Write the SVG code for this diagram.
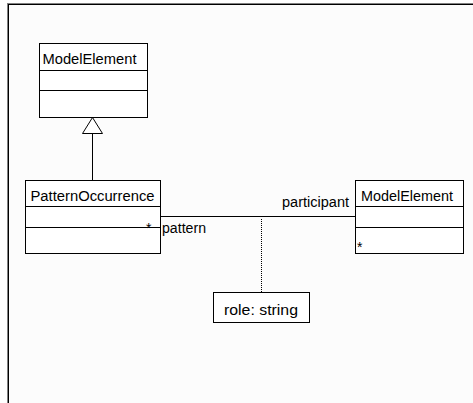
<svg xmlns="http://www.w3.org/2000/svg" width="473" height="403" viewBox="0 0 473 403">
<style>
.box{fill:#ffffff;stroke:#000;stroke-width:1}
.ln{stroke:#000;stroke-width:1;fill:none}
.t{font-family:"Liberation Sans",Arial,sans-serif;font-size:14px;fill:#000}
</style>
<rect x="0" y="0" width="473" height="403" fill="#ffffff"/>
<rect x="9" y="5" width="464" height="398" fill="#fcfcfc"/>
<g id="frame">
<line x1="7" y1="3.5" x2="473" y2="3.5" stroke="#808080"/>
<line x1="8" y1="4.5" x2="473" y2="4.5" stroke="#000"/>
<line x1="7.5" y1="3" x2="7.5" y2="403" stroke="#808080"/>
<line x1="8.5" y1="4" x2="8.5" y2="403" stroke="#000"/>
</g>
<g id="connectors">
<line class="ln" x1="92.5" y1="133" x2="92.5" y2="180"/>
<polygon class="box" points="92.5,117.5 82.5,133.5 102.5,133.5"/>
<line class="ln" x1="160" y1="216.5" x2="355" y2="216.5"/>
<line class="ln" x1="261.5" y1="219" x2="261.5" y2="292" stroke-dasharray="1,1"/>
<text class="t" x="349" y="207" text-anchor="end" textLength="67" lengthAdjust="spacingAndGlyphs">participant</text>
<text class="t" x="162" y="233" textLength="44" lengthAdjust="spacingAndGlyphs">pattern</text>
</g>
<g id="modelElementTop">
<rect class="box" x="39.5" y="43.5" width="108" height="74"/>
<line class="ln" x1="39.5" y1="70.5" x2="147.5" y2="70.5"/>
<line class="ln" x1="39.5" y1="90.5" x2="147.5" y2="90.5"/>
<text class="t" x="42.5" y="64" textLength="94" lengthAdjust="spacingAndGlyphs">ModelElement</text>
</g>
<g id="patternOccurrence">
<rect class="box" x="25.5" y="180.5" width="135" height="73"/>
<line class="ln" x1="25.5" y1="206.5" x2="160.5" y2="206.5"/>
<line class="ln" x1="25.5" y1="227.5" x2="160.5" y2="227.5"/>
<text class="t" x="30.5" y="201" textLength="124" lengthAdjust="spacingAndGlyphs">PatternOccurrence</text>
<text class="t" x="146" y="233" font-size="12">*</text>
</g>
<g id="modelElementRight">
<rect class="box" x="355.5" y="180.5" width="108" height="73"/>
<line class="ln" x1="355.5" y1="206.5" x2="463.5" y2="206.5"/>
<line class="ln" x1="355.5" y1="227.5" x2="463.5" y2="227.5"/>
<text class="t" x="361" y="201" textLength="92" lengthAdjust="spacingAndGlyphs">ModelElement</text>
<text class="t" x="357" y="252" font-size="12">*</text>
</g>
<g id="roleNote">
<rect class="box" x="213.5" y="292.5" width="96" height="30"/>
<text class="t" x="224" y="315" font-size="15" textLength="74" lengthAdjust="spacingAndGlyphs">role: string</text>
</g>
</svg>
